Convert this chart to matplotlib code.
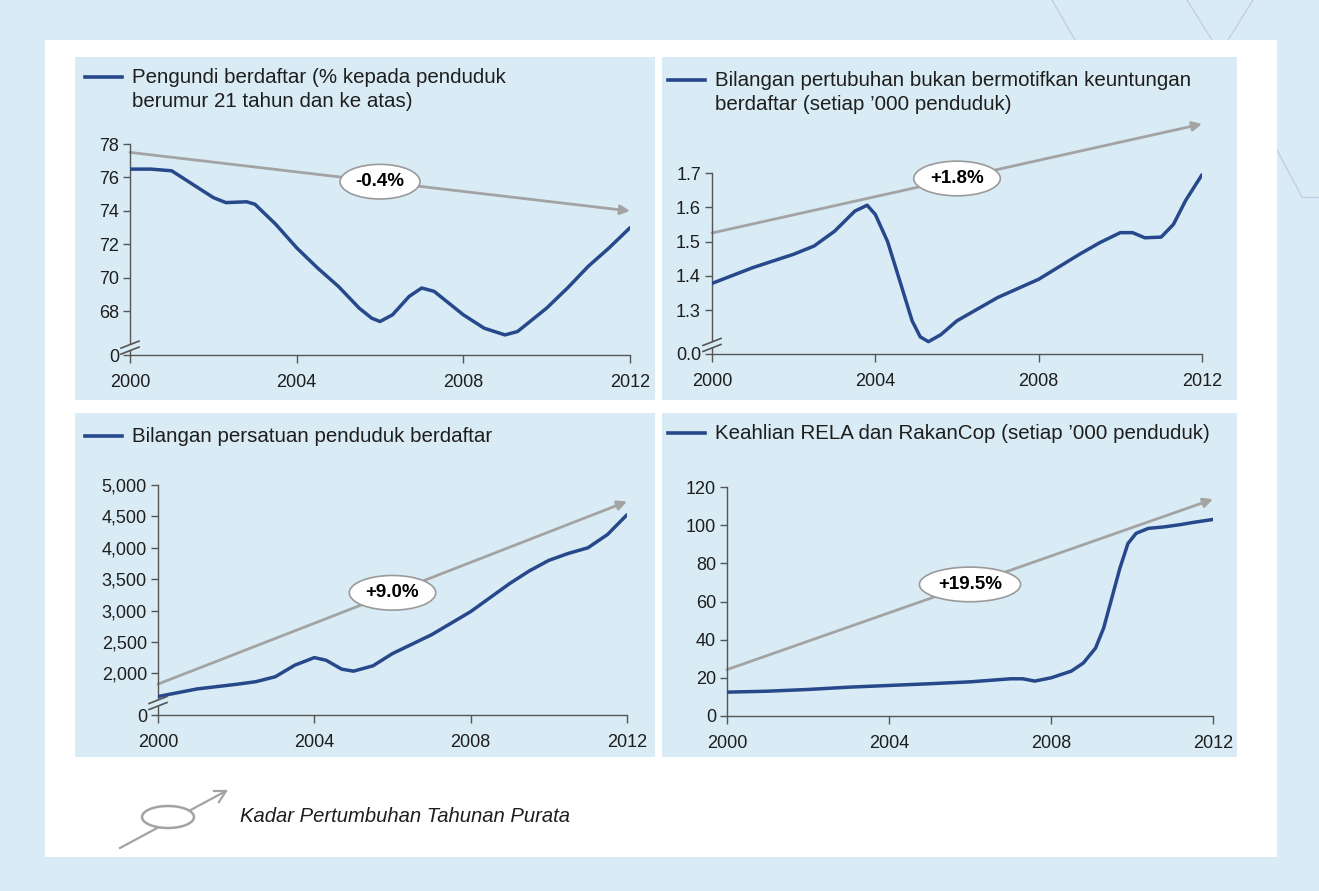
import matplotlib
matplotlib.use('Agg')
import matplotlib.pyplot as plt
from matplotlib.lines import Line2D
from matplotlib.patches import Rectangle, Ellipse
from matplotlib.transforms import ScaledTranslation

plt.rcParams['font.family'] = ['Liberation Sans', 'DejaVu Sans']

W, H = 1319, 891
BG = '#d9ebf4'
BLUE = '#27498b'
GREY = '#a3a3a3'
TXT = '#1e1e1e'

# Panel 1: pengundi berdaftar (%)
p1_years = [2000, 2000.5, 2001, 2001.5, 2002, 2002.3, 2002.8, 2003, 2003.5, 2004, 2004.5,
            2005, 2005.5, 2005.8, 2006, 2006.3, 2006.7, 2007, 2007.3, 2007.7, 2008, 2008.5,
            2009, 2009.3, 2009.7, 2010, 2010.5, 2011, 2011.5, 2012]
p1_values = [76.5, 76.5, 76.4, 75.6, 74.8, 74.5, 74.55, 74.4, 73.2, 71.8, 70.6,
             69.5, 68.2, 67.6, 67.4, 67.8, 68.9, 69.4, 69.2, 68.4, 67.8, 67.0,
             66.6, 66.8, 67.6, 68.2, 69.4, 70.7, 71.8, 73.0]
p1_trend = [77.5, 74.0]
p1_label = '-0.4%'
p1_ticks = [65.4, 68, 70, 72, 74, 76, 78]
p1_ticklabels = ['0', '68', '70', '72', '74', '76', '78']

# Panel 2: pertubuhan bukan bermotifkan keuntungan (setiap '000)
p2_years = [2000, 2001, 2002, 2002.5, 2003, 2003.5, 2003.8, 2004, 2004.3, 2004.6, 2004.9,
            2005.1, 2005.3, 2005.6, 2006, 2007, 2008, 2009, 2009.5, 2010, 2010.3, 2010.6,
            2011, 2011.3, 2011.6, 2012]
p2_values = [1.378, 1.424, 1.463, 1.487, 1.530, 1.589, 1.606, 1.579, 1.50, 1.385, 1.269,
             1.222, 1.208, 1.228, 1.269, 1.337, 1.39, 1.463, 1.497, 1.526, 1.526, 1.511,
             1.513, 1.55, 1.62, 1.695]
p2_trend = [1.525, 1.843]
p2_label = '+1.8%'
p2_ticks = [1.172, 1.3, 1.4, 1.5, 1.6, 1.7]
p2_ticklabels = ['0.0', '1.3', '1.4', '1.5', '1.6', '1.7']

# Panel 3: persatuan penduduk berdaftar
p3_years = [2000, 2001, 2002, 2002.5, 2003, 2003.5, 2004, 2004.3, 2004.7, 2005, 2005.5,
            2006, 2007, 2008, 2009, 2009.5, 2010, 2010.5, 2011, 2011.5, 2012]
p3_values = [1632, 1753, 1826, 1868, 1947, 2131, 2252, 2210, 2068, 2036, 2121,
             2316, 2616, 2984, 3432, 3632, 3800, 3911, 4000, 4211, 4526]
p3_trend = [1830, 4737]
p3_label = '+9.0%'
p3_ticks = [1338, 2000, 2500, 3000, 3500, 4000, 4500, 5000]
p3_ticklabels = ['0', '2,000', '2,500', '3,000', '3,500', '4,000', '4,500', '5,000']

# Panel 4: keahlian RELA dan RakanCop (setiap '000)
p4_years = [2000, 2001, 2002, 2003, 2004, 2005, 2006, 2007, 2007.3, 2007.6, 2008, 2008.5,
            2008.8, 2009.1, 2009.3, 2009.5, 2009.7, 2009.9, 2010.1, 2010.4, 2010.8, 2011.2,
            2011.5, 2012]
p4_values = [12.5, 13.0, 13.9, 15.1, 16.0, 16.9, 17.9, 19.5, 19.5, 18.3, 20.0, 23.5,
             27.8, 35.6, 46.1, 61.7, 77.4, 90.4, 95.7, 98.3, 99.1, 100.3, 101.4, 103.0]
p4_trend = [24.3, 113.6]
p4_label = '+19.5%'
p4_ticks = [0, 20, 40, 60, 80, 100, 120]
p4_ticklabels = ['0', '20', '40', '60', '80', '100', '120']

x_ticks = [2000, 2004, 2008, 2012]
trend_years = [2000, 2012]

p1_title = 'Pengundi berdaftar (% kepada penduduk\nberumur 21 tahun dan ke atas)'
p2_title = 'Bilangan pertubuhan bukan bermotifkan keuntungan\nberdaftar (setiap \u2019000 penduduk)'
p3_title = 'Bilangan persatuan penduduk berdaftar'
p4_title = 'Keahlian RELA dan RakanCop (setiap \u2019000 penduduk)'
key_text = 'Kadar Pertumbuhan Tahunan Purata'

fig = plt.figure(figsize=(W / 100, H / 100), dpi=100)
fig.patch.set_facecolor(BG)


def fx(px):
    return px / W


def fy(py):
    return 1 - py / H


def rect_px(x0, y0, x1, y1, **kw):
    fig.patches.append(Rectangle((fx(x0), fy(y1)), fx(x1 - x0), (y1 - y0) / H,
                                 transform=fig.transFigure, **kw))


# kotak putih dan garis hiasan latar
rect_px(45, 40, 1277, 857, facecolor='white', edgecolor='none', zorder=0)
for seg in [((1052, 0), (1075, 40)), ((1187, 0), (1212, 40)), ((1253, 0), (1228, 40)),
            ((1277, 150), (1302, 197)), ((1302, 197), (1319, 197))]:
    (xa, ya), (xb, yb) = seg
    fig.add_artist(Line2D([fx(xa), fx(xb)], [fy(ya), fy(yb)], color='#c5cde8', lw=1,
                          transform=fig.transFigure, zorder=0))

panels = [
    dict(box=(75, 57, 655, 400), ax=(130, 144, 630, 355), leg=(85, 77),
         years=p1_years, values=p1_values, trend=p1_trend, label=p1_label,
         ticks=p1_ticks, ticklabels=p1_ticklabels, title=p1_title, brk=0.035),
    dict(box=(662, 57, 1237, 400), ax=(712, 173, 1202, 354), leg=(668, 80),
         years=p2_years, values=p2_values, trend=p2_trend, label=p2_label,
         ticks=p2_ticks, ticklabels=p2_ticklabels, title=p2_title, brk=0.05),
    dict(box=(75, 413, 655, 757), ax=(158, 485, 627, 715), leg=(85, 436),
         years=p3_years, values=p3_values, trend=p3_trend, label=p3_label,
         ticks=p3_ticks, ticklabels=p3_ticklabels, title=p3_title, brk=0.052),
    dict(box=(662, 413, 1237, 757), ax=(727, 487, 1213, 716), leg=(668, 433),
         years=p4_years, values=p4_values, trend=p4_trend, label=p4_label,
         ticks=p4_ticks, ticklabels=p4_ticklabels, title=p4_title, brk=None),
]

for p in panels:
    bx0, by0, bx1, by1 = p['box']
    rect_px(bx0, by0, bx1, by1, facecolor=BG, edgecolor='none', zorder=1)

    # legenda
    lx, ly = p['leg']
    fig.add_artist(Line2D([fx(lx), fx(lx + 37)], [fy(ly), fy(ly)], color=BLUE, lw=2.6,
                          transform=fig.transFigure, zorder=3))
    fig.text(fx(lx + 47), fy(ly), p['title'], ha='left', va='top', fontsize=14.8,
             color=TXT, linespacing=1.32, zorder=3,
             transform=fig.transFigure + ScaledTranslation(0, 9 / 100, fig.dpi_scale_trans))

    ax0, ay0, ax1, ay1 = p['ax']
    ax = fig.add_axes([fx(ax0), fy(ay1), fx(ax1 - ax0), (ay1 - ay0) / H])
    ax.set_facecolor('none')
    ax.set_zorder(2)
    ax.plot(p['years'], p['values'], color=BLUE, lw=2.5, solid_capstyle='round',
            solid_joinstyle='round', zorder=3)

    ax.set_xlim(2000, 2012)
    ax.set_ylim(p['ticks'][0], p['ticks'][-1])
    ax.set_xticks(x_ticks)
    ax.set_xticklabels([str(t) for t in x_ticks])
    ax.set_yticks(p['ticks'])
    ax.set_yticklabels(p['ticklabels'])
    for s in ['top', 'right']:
        ax.spines[s].set_visible(False)
    for s in ['left', 'bottom']:
        ax.spines[s].set_color('#555555')
        ax.spines[s].set_linewidth(1.0)
    ax.tick_params(axis='x', direction='out', length=6, width=1, color='#555555',
                   labelsize=13, labelcolor=TXT, pad=8)
    ax.tick_params(axis='y', direction='out', length=5, width=1, color='#555555',
                   labelsize=13, labelcolor=TXT, pad=3)

    # anak panah trend
    ax.annotate('', xy=(trend_years[1], p['trend'][1]), xytext=(trend_years[0], p['trend'][0]),
                xycoords='data', annotation_clip=False,
                arrowprops=dict(arrowstyle='-|>', color=GREY, lw=2.0, mutation_scale=14,
                                shrinkA=0, shrinkB=0), zorder=2)
    mid_x = sum(trend_years) / 2
    mid_y = sum(p['trend']) / 2
    ax.text(mid_x, mid_y, p['label'], ha='center', va='center', fontsize=13.5,
            fontweight='bold', color='black', zorder=5,
            bbox=dict(boxstyle='ellipse,pad=0.2', facecolor='white', edgecolor='#9a9a9a',
                      lw=1.2))

    # tanda putus paksi y
    if p['brk'] is not None:
        tr = fig.dpi_scale_trans + ScaledTranslation(0, p['brk'], ax.transAxes)
        ax.add_patch(Rectangle((-0.03, -0.02), 0.06, 0.05, transform=tr, facecolor=BG,
                               edgecolor='none', clip_on=False, zorder=4))
        for dy in (-0.03, 0.03):
            ax.add_line(Line2D([-0.09, 0.09], [dy - 0.035, dy + 0.035], transform=tr,
                               color='#555555', lw=1.2, clip_on=False, zorder=5))

# petunjuk bawah
fig.add_artist(Line2D([fx(120), fx(226)], [fy(848), fy(791)], color=GREY, lw=1.6,
                      transform=fig.transFigure, zorder=3))
fig.add_artist(Line2D([fx(214), fx(226), fx(219)], [fy(791), fy(791), fy(802)], color=GREY,
                      lw=1.6, transform=fig.transFigure, zorder=3))
fig.add_artist(Ellipse((fx(168), fy(817)), fx(52), 22 / H, facecolor='white', edgecolor=GREY,
                       lw=1.8, transform=fig.transFigure, zorder=4))
fig.text(fx(240), fy(816), key_text, ha='left', va='center', fontsize=14.6,
         fontstyle='italic', color=TXT)

fig.savefig('out.png', dpi=100, facecolor=fig.get_facecolor())
